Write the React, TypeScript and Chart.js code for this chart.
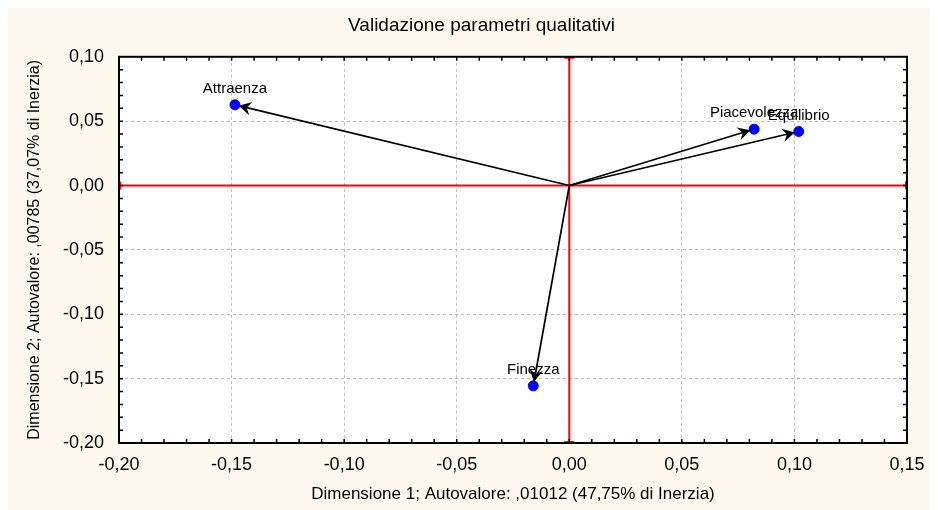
import React, { useEffect, useRef } from "react";
import { Chart, registerables } from "chart.js";

Chart.register(...registerables);

const labels = ["Attraenza", "Piacevolezza", "Equilibrio", "Finezza"];
const dim1 = [-0.1485, 0.0821, 0.1019, -0.016];
const dim2 = [0.0627, 0.0438, 0.042, -0.1556];

const xMin = -0.2;
const xMax = 0.15;
const yMin = -0.2;
const yMax = 0.1;
const majorStep = 0.05;
const minorStep = 0.01;

const titleText = "Validazione parametri qualitativi";
const xTitle = "Dimensione 1; Autovalore: ,01012 (47,75% di Inerzia)";
const yTitle = "Dimensione 2; Autovalore: ,00785 (37,07% di Inerzia)";

const FONT = "Arial, 'Liberation Sans', sans-serif";

const fmt = (v: number) => {
  if (Math.abs(v) < 1e-9) return "0,00";
  return v.toFixed(2).replace(".", ",");
};

const framePlugin = {
  id: "framePlugin",
  beforeDraw(chart: any) {
    const { ctx, chartArea } = chart;
    ctx.save();
    ctx.fillStyle = "#FDF9EF";
    ctx.fillRect(0, 0, chart.width, chart.height);
    ctx.fillStyle = "#FFFFFF";
    ctx.fillRect(chartArea.left, chartArea.top, chartArea.right - chartArea.left, chartArea.bottom - chartArea.top);
    ctx.restore();
  },
  beforeDatasetsDraw(chart: any) {
    const { ctx, chartArea } = chart;
    const xs = chart.scales.x;
    const ys = chart.scales.y;
    const { left, right, top, bottom } = chartArea;
    ctx.save();
    const x0 = xs.getPixelForValue(0);
    const y0 = ys.getPixelForValue(0);
    ctx.strokeStyle = "#FF0000";
    ctx.lineWidth = 2;
    ctx.beginPath();
    ctx.moveTo(left, y0);
    ctx.lineTo(right, y0);
    ctx.moveTo(x0, top);
    ctx.lineTo(x0, bottom);
    ctx.moveTo(left + 1, y0 - 4);
    ctx.lineTo(left + 1, y0 + 4);
    ctx.moveTo(right - 1, y0 - 4);
    ctx.lineTo(right - 1, y0 + 4);
    ctx.moveTo(x0 - 5, top + 1);
    ctx.lineTo(x0 + 5, top + 1);
    ctx.moveTo(x0 - 5, bottom - 1);
    ctx.lineTo(x0 + 5, bottom - 1);
    ctx.stroke();
    ctx.restore();
  },
  afterDatasetsDraw(chart: any) {
    const { ctx, chartArea } = chart;
    const xs = chart.scales.x;
    const ys = chart.scales.y;
    const { left, right, top, bottom } = chartArea;
    const ox = xs.getPixelForValue(0);
    const oy = ys.getPixelForValue(0);
    ctx.save();
    ctx.strokeStyle = "#000000";
    ctx.fillStyle = "#000000";
    ctx.lineWidth = 1.7;
    for (let i = 0; i < labels.length; i++) {
      const px = xs.getPixelForValue(dim1[i]);
      const py = ys.getPixelForValue(dim2[i]);
      const ang = Math.atan2(py - oy, px - ox);
      const tx = px - Math.cos(ang) * 4;
      const ty = py - Math.sin(ang) * 4;
      ctx.beginPath();
      ctx.moveTo(ox, oy);
      ctx.lineTo(tx - Math.cos(ang) * 5, ty - Math.sin(ang) * 5);
      ctx.stroke();
      const L = 14;
      const w = 0.5;
      ctx.beginPath();
      ctx.moveTo(tx, ty);
      ctx.lineTo(tx - L * Math.cos(ang - w), ty - L * Math.sin(ang - w));
      ctx.lineTo(tx - 8 * Math.cos(ang), ty - 8 * Math.sin(ang));
      ctx.lineTo(tx - L * Math.cos(ang + w), ty - L * Math.sin(ang + w));
      ctx.closePath();
      ctx.fill();
    }
    ctx.font = `15px ${FONT}`;
    ctx.textAlign = "center";
    ctx.textBaseline = "middle";
    ctx.fillStyle = "#000000";
    for (let i = 0; i < labels.length; i++) {
      const px = xs.getPixelForValue(dim1[i]);
      const py = ys.getPixelForValue(dim2[i]);
      ctx.fillText(labels[i], px, py - 16);
    }
    ctx.strokeStyle = "#000000";
    ctx.lineWidth = 2;
    ctx.strokeRect(left, top, right - left, bottom - top);
    ctx.lineWidth = 1.5;
    ctx.beginPath();
    const nx = Math.round((xMax - xMin) / minorStep);
    for (let i = 1; i < nx; i++) {
      const x = xs.getPixelForValue(xMin + i * minorStep);
      ctx.moveTo(x, bottom);
      ctx.lineTo(x, bottom - 4);
      ctx.moveTo(x, top);
      ctx.lineTo(x, top + 4);
    }
    const ny = Math.round((yMax - yMin) / minorStep);
    for (let i = 1; i < ny; i++) {
      const y = ys.getPixelForValue(yMin + i * minorStep);
      ctx.moveTo(left, y);
      ctx.lineTo(left + 4, y);
      ctx.moveTo(right, y);
      ctx.lineTo(right - 4, y);
    }
    ctx.stroke();
    ctx.restore();
  },
};

export default function App() {
  const ref = useRef<HTMLCanvasElement>(null);
  useEffect(() => {
    if (!ref.current) return;
    const chart = new Chart(ref.current, {
      type: "scatter",
      data: {
        datasets: [
          {
            data: dim1.map((x, i) => ({ x, y: dim2[i] })),
            backgroundColor: "#0000FF",
            borderColor: "#0000FF",
            pointRadius: 5,
            pointHoverRadius: 5,
          },
        ],
      },
      options: {
        animation: false,
        responsive: false,
        devicePixelRatio: 1,
        layout: { padding: { top: 0, right: 0, bottom: 0, left: 17 } },
        plugins: {
          legend: { display: false },
          tooltip: { enabled: false },
          title: {
            display: true,
            text: titleText,
            color: "#000000",
            font: { family: FONT, size: 19, weight: "normal" },
            padding: { top: 6, bottom: 20 },
          },
        },
        scales: {
          x: {
            type: "linear",
            min: xMin,
            max: xMax,
            afterFit: (s: any) => {
              s.height = 67;
            },
            ticks: {
              stepSize: majorStep,
              color: "#000000",
              font: { family: FONT, size: 18 },
              padding: 11,
              maxRotation: 0,
              callback: (v: any) => fmt(Number(v)),
            },
            grid: { color: "#BBBBBB", lineWidth: 1, drawTicks: false },
            border: { display: false, dash: [3, 3] },
            title: {
              display: true,
              text: xTitle,
              color: "#000000",
              font: { family: FONT, size: 17 },
              padding: { top: 0, bottom: 5 },
            },
          },
          y: {
            type: "linear",
            min: yMin,
            max: yMax,
            afterFit: (s: any) => {
              s.width = 94;
            },
            ticks: {
              stepSize: majorStep,
              color: "#000000",
              font: { family: FONT, size: 18 },
              padding: 15,
              callback: (v: any) => fmt(Number(v)),
            },
            grid: { color: "#BBBBBB", lineWidth: 1, drawTicks: false },
            border: { display: false, dash: [3, 3] },
            title: {
              display: true,
              text: yTitle,
              color: "#000000",
              font: { family: FONT, size: 16 },
              padding: { top: 0, bottom: 0 },
            },
          },
          yRight: {
            type: "linear",
            position: "right",
            display: true,
            afterFit: (s: any) => {
              s.width = 31;
            },
            ticks: { display: false },
            grid: { display: false, drawTicks: false },
            border: { display: false },
          },
        },
      },
      plugins: [framePlugin],
    } as any);
    return () => chart.destroy();
  }, []);
  return (
    <div style={{ width: 930, height: 502 }}>
      <canvas ref={ref} width={930} height={502} style={{ display: "block" }} />
    </div>
  );
}
